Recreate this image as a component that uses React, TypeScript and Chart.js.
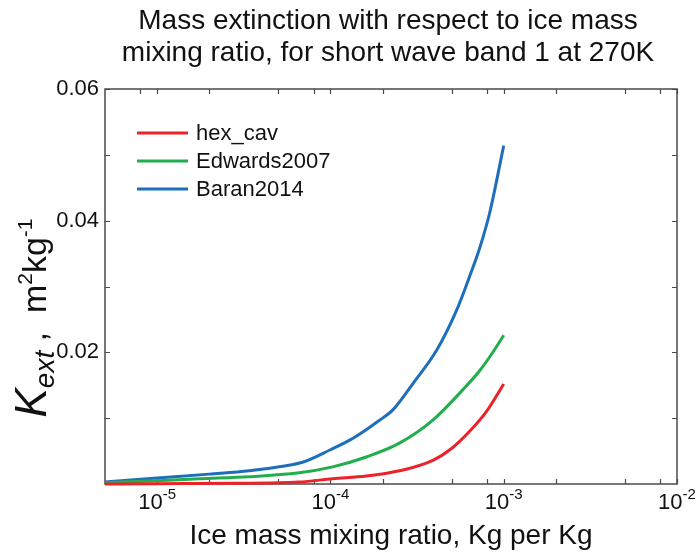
import React, { useEffect, useRef } from 'react';
import { Chart, registerables } from 'chart.js';

Chart.register(...registerables);

const titleLines = ['Mass extinction with respect to ice mass', 'mixing ratio, for short wave band 1 at 270K'];
const xAxisTitle = 'Ice mass mixing ratio, Kg per Kg';

const seriesNames = ['hex_cav', 'Edwards2007', 'Baran2014'];
const seriesColors = ['#ec2229', '#22ae4c', '#1d6fbc'];

const hexCavX = [5e-6, 1e-5, 2.7e-5, 6.6e-5, 1.03e-4, 1.61e-4, 2.5e-4, 3.9e-4, 5e-4, 6.3e-4, 7.94e-4, 1e-3];
const hexCavY = [0.0, 0.00005, 0.0001, 0.0003, 0.0008, 0.0012, 0.002, 0.0036, 0.0054, 0.0079, 0.011, 0.0152];

const edwardsX = [5e-6, 1e-5, 1.75e-5, 3.4e-5, 6.6e-5, 1.03e-4, 1.61e-4, 2.5e-4, 3.9e-4, 5.8e-4, 7.26e-4, 8.6e-4, 1e-3];
const edwardsY = [0.0002, 0.0005, 0.0008, 0.0011, 0.0017, 0.0026, 0.0041, 0.0062, 0.0097, 0.0143, 0.0172, 0.0199, 0.0226];

const baranX = [5e-6, 1e-5, 2e-5, 3.4e-5, 5.3e-5, 6.9e-5, 1e-4, 1.3e-4, 1.6e-4, 1.9e-4, 2.3e-4, 3e-4, 4.1e-4, 5.35e-4, 6.35e-4, 7.3e-4, 8.3e-4, 1e-3];
const baranY = [0.0003, 0.0009, 0.0015, 0.002, 0.0027, 0.0033, 0.0052, 0.0067, 0.0082, 0.0096, 0.0113, 0.0153, 0.0203, 0.0264, 0.0315, 0.036, 0.0412, 0.0514];

const xMin = 5e-6;
const xMax = 1e-2;
const yMin = 0;
const yMax = 0.06;

const xMajorTicks = [1e-5, 1e-4, 1e-3, 1e-2];
const xMajorExponents = ['-5', '-4', '-3', '-2'];
const xMinorTicks = [8e-6, 2e-5, 5e-5, 8e-5, 2e-4, 5e-4, 8e-4, 2e-3, 5e-3, 8e-3];
const yTickValues = [0.02, 0.04, 0.06];
const yTickLabels = ['0.02', '0.04', '0.06'];
const yMinorTicks = [0.01, 0.03, 0.05];

const FONT = '"Liberation Sans", Arial, Helvetica, sans-serif';

const toPoints = (xs: number[], ys: number[]) => xs.map((x, i) => ({ x, y: ys[i] }));

const decorPlugin = {
  id: 'decor',
  beforeDatasetsDraw(chart: any) {
    const { ctx, chartArea: a, scales } = chart;
    const xs = scales.x;
    const ys = scales.y;
    ctx.save();
    ctx.strokeStyle = '#4a4a4a';
    ctx.lineWidth = 1.5;
    ctx.strokeRect(a.left, a.top, a.right - a.left, a.bottom - a.top);
    const tl = 5;
    ctx.lineWidth = 1.2;
    ctx.beginPath();
    [...xMajorTicks, ...xMinorTicks].forEach((v) => {
      const px = Math.round(xs.getPixelForValue(v)) + 0.5;
      ctx.moveTo(px, a.bottom);
      ctx.lineTo(px, a.bottom - tl);
      ctx.moveTo(px, a.top);
      ctx.lineTo(px, a.top + tl);
    });
    [...yTickValues, ...yMinorTicks].forEach((v) => {
      const py = Math.round(ys.getPixelForValue(v)) + 0.5;
      ctx.moveTo(a.left, py);
      ctx.lineTo(a.left + tl, py);
      ctx.moveTo(a.right, py);
      ctx.lineTo(a.right - tl, py);
    });
    ctx.stroke();
    ctx.restore();
  },
  afterDraw(chart: any) {
    const { ctx, chartArea: a, scales } = chart;
    const xs = scales.x;
    const ys = scales.y;
    const cx = (a.left + a.right) / 2;
    ctx.save();
    ctx.fillStyle = '#111';

    // Title
    ctx.font = `28px ${FONT}`;
    ctx.textAlign = 'center';
    ctx.textBaseline = 'middle';
    ctx.fillText(titleLines[0], cx - 3, 21);
    ctx.fillText(titleLines[1], cx - 3, 53);

    // Y tick labels
    ctx.font = `22px ${FONT}`;
    ctx.textAlign = 'right';
    ctx.textBaseline = 'middle';
    yTickValues.forEach((v, i) => {
      ctx.fillText(yTickLabels[i], a.left - 6, ys.getPixelForValue(v));
    });

    // X tick labels 10^n
    ctx.textAlign = 'left';
    ctx.textBaseline = 'alphabetic';
    xMajorTicks.forEach((v, i) => {
      const px = xs.getPixelForValue(v);
      ctx.font = `22px ${FONT}`;
      const w1 = ctx.measureText('10').width;
      ctx.font = `15px ${FONT}`;
      const w2 = ctx.measureText(xMajorExponents[i]).width;
      const start = px - (w1 + w2) / 2;
      const base = a.bottom + 25;
      ctx.font = `22px ${FONT}`;
      ctx.fillText('10', start, base);
      ctx.font = `15px ${FONT}`;
      ctx.fillText(xMajorExponents[i], start + w1, base - 10);
    });

    // X axis title
    ctx.font = `28px ${FONT}`;
    ctx.textAlign = 'center';
    ctx.textBaseline = 'middle';
    ctx.fillText(xAxisTitle, cx, 536);

    // Y axis title (rotated, with sub/superscripts)
    const pieces = [
      { t: 'K', f: `italic 44px ${FONT}`, dy: 0 },
      { t: 'ext', f: `italic 28px ${FONT}`, dy: 8 },
      { t: ' ,  m', f: `34px ${FONT}`, dy: 0 },
      { t: '2', f: `21px ${FONT}`, dy: -14 },
      { t: 'kg', f: `34px ${FONT}`, dy: 0 },
      { t: '-1', f: `21px ${FONT}`, dy: -14 },
    ];
    let total = 0;
    const widths = pieces.map((p) => {
      ctx.font = p.f;
      const w = ctx.measureText(p.t).width;
      total += w;
      return w;
    });
    ctx.translate(33, 318);
    ctx.rotate(-Math.PI / 2);
    ctx.textAlign = 'left';
    ctx.textBaseline = 'alphabetic';
    let x0 = -total / 2;
    pieces.forEach((p, i) => {
      ctx.font = p.f;
      ctx.fillText(p.t, x0, 13 + p.dy);
      x0 += widths[i];
    });
    ctx.setTransform(1, 0, 0, 1, 0, 0);

    // Legend
    const legendYs = [133, 161, 189];
    ctx.font = `22px ${FONT}`;
    ctx.textAlign = 'left';
    ctx.textBaseline = 'middle';
    seriesNames.forEach((name, i) => {
      ctx.strokeStyle = seriesColors[i];
      ctx.lineWidth = 3;
      ctx.beginPath();
      ctx.moveTo(137, legendYs[i]);
      ctx.lineTo(188, legendYs[i]);
      ctx.stroke();
      ctx.fillStyle = '#111';
      ctx.fillText(name, 196, legendYs[i] + 1);
    });
    ctx.restore();
  },
};

export default function App() {
  const canvasRef = useRef<HTMLCanvasElement | null>(null);

  useEffect(() => {
    document.body.style.margin = '0';
    const canvas = canvasRef.current;
    if (!canvas) return;
    const seriesX = [hexCavX, edwardsX, baranX];
    const seriesY = [hexCavY, edwardsY, baranY];
    const chart = new Chart(canvas, {
      type: 'line',
      data: {
        datasets: seriesNames.map((name, i) => ({
          label: name,
          data: toPoints(seriesX[i], seriesY[i]),
          borderColor: seriesColors[i],
          backgroundColor: seriesColors[i],
          borderWidth: 3,
          pointRadius: 0,
          cubicInterpolationMode: 'monotone' as const,
          fill: false,
          clip: 4,
        })),
      },
      options: {
        responsive: true,
        maintainAspectRatio: false,
        animation: false,
        layout: { padding: { left: 105, right: 19, top: 89, bottom: 69 } },
        plugins: { legend: { display: false }, title: { display: false }, tooltip: { enabled: false } },
        scales: {
          x: { type: 'logarithmic', min: xMin, max: xMax, display: false },
          y: { type: 'linear', min: yMin, max: yMax, display: false },
        },
      },
      plugins: [decorPlugin],
    });
    return () => chart.destroy();
  }, []);

  return (
    <div style={{ position: 'absolute', left: 0, top: 0, width: 696, height: 553, background: '#fff' }}>
      <canvas ref={canvasRef} />
    </div>
  );
}
